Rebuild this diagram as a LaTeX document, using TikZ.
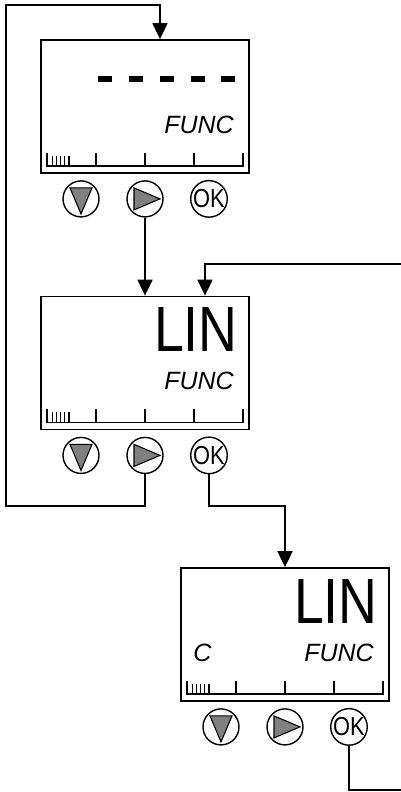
\documentclass[tikz,border=0pt]{standalone}
\usepackage{fontspec}
\setmainfont{Liberation Sans}
\newfontfamily\lcdbig[FakeStretch=0.84]{Liberation Sans}
\usetikzlibrary{arrows.meta}

\begin{document}
\begin{tikzpicture}[x=1pt,y=-1pt,
  screen/.style={rectangle,draw,line width=1.8pt,minimum width=208pt,minimum height=133pt,inner sep=0pt},
  key/.style={circle,draw,line width=1.4pt,minimum size=36pt,inner sep=0pt},
  tri/.style={fill=gray,draw=black,line width=1.1pt},
  downkey/.style={key,path picture={\filldraw[tri] ([shift={(-11pt,11pt)}]path picture bounding box.center)
      -- ++(22pt,0pt) -- ++(-11pt,-26pt) -- cycle;}},
  rightkey/.style={key,path picture={\filldraw[tri] ([shift={(-11pt,11pt)}]path picture bounding box.center)
      -- ++(0pt,-22pt) -- ++(26pt,11pt) -- cycle;}},
  okkey/.style={key,font=\lcdbig\fontsize{26}{26}\selectfont},
  big/.style={inner sep=0pt,anchor=base east,font=\lcdbig\fontsize{64}{64}\selectfont},
  small/.style={inner sep=0pt,font=\fontsize{25}{25}\selectfont\itshape},
  link/.style={line width=1.8pt},
  arr/.style={link,-{Triangle[length=16pt,width=15pt]}},
  scalebar/.pic={
    \draw[line width=1.6pt] (7,-21) -- (7,-8) -- (203,-8) -- (203,-21);
    \foreach \i in {1,2,3} \draw[line width=1.4pt] (7+49*\i,-8) -- ++(0,-13);
    \foreach \i in {12,16.2,...,29} \draw[line width=1.2pt] (\i,-8) -- ++(0,-10);
  }]
\useasboundingbox (0,0) rectangle (401,792);

% first display
\node[screen] (s1) at (145,106.5) {};
\foreach \i in {0,...,4}
  \fill ([shift={(58.3+30.7*\i,37.3)}]s1.north west) rectangle ++(14,5.4);
\node[small,anchor=base east] (f1) at ([shift={(-16,94)}]s1.north east) {FUNC};
\pic at (s1.south west) {scalebar};
\node[downkey] (b1d) at ([shift={(-64,25)}]s1.south) {};
\node[rightkey] (b1r) at ([shift={(0,25)}]s1.south) {};
\node[okkey] (b1ok) at ([shift={(64,25)}]s1.south) {OK};

% second display
\node[screen] (s2) at (145,363) {};
\node[big] (l2) at ([shift={(-12,56)}]s2.north east) {LIN};
\node[small,anchor=base east] (f2) at ([shift={(-16,94)}]s2.north east) {FUNC};
\pic at (s2.south west) {scalebar};
\node[downkey] (b2d) at ([shift={(-64,25)}]s2.south) {};
\node[rightkey] (b2r) at ([shift={(0,25)}]s2.south) {};
\node[okkey] (b2ok) at ([shift={(64,25)}]s2.south) {OK};

% third display
\node[screen] (s3) at (285,634.5) {};
\node[big] (l3) at ([shift={(-12,56)}]s3.north east) {LIN};
\node[small,anchor=base west] (c3) at ([shift={(13,94)}]s3.north west) {C};
\node[small,anchor=base east] (f3) at ([shift={(-16,94)}]s3.north east) {FUNC};
\pic at (s3.south west) {scalebar};
\node[downkey] (b3d) at ([shift={(-64,25)}]s3.south) {};
\node[rightkey] (b3r) at ([shift={(0,25)}]s3.south) {};
\node[okkey] (b3ok) at ([shift={(64,25)}]s3.south) {OK};

% connections
\coordinate (in2) at (401,264);
\coordinate (back) at (6,506);
\coordinate (top) at (6,5);
\coordinate (out3) at (401,790);
\draw[arr] (b1r) -- (b1r |- s2.north);
\draw[arr] (in2) -| ([xshift=60pt]s2.north);
\draw[arr] (b2r) |- (back) -- (top) -| ([xshift=15pt]s1.north);
\draw[arr] (b2ok) |- (s3.north |- back) -- (s3.north);
\draw[link] (b3ok) |- (out3);
\end{tikzpicture}
\end{document}
